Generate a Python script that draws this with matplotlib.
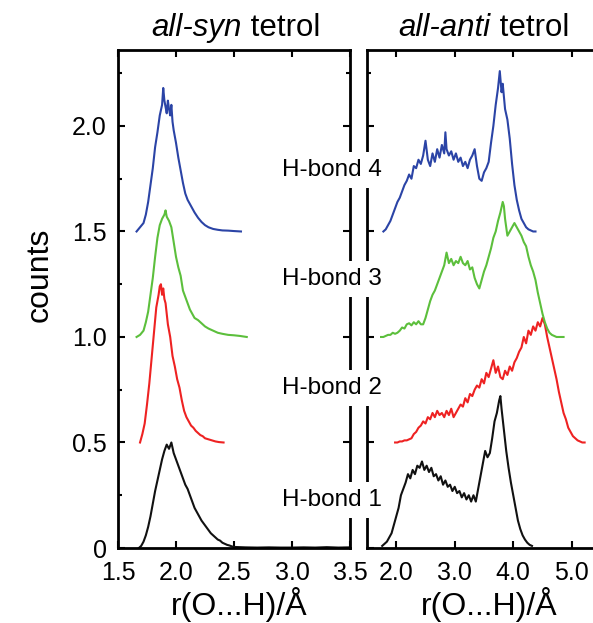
import matplotlib
matplotlib.use("Agg")
import matplotlib.pyplot as plt
from matplotlib.ticker import MultipleLocator, FuncFormatter

plt.rcParams['font.family'] = ['Liberation Sans', 'DejaVu Sans']

# colours of H-bond 1..4
colors = ['#111111', '#ee2222', '#5cbf3c', '#2b44a6']
offsets = [0.0, 0.5, 1.0, 1.5]
labels = ['H-bond 1', 'H-bond 2', 'H-bond 3', 'H-bond 4']

# ---- all-syn tetrol (left panel), raw counts before offset ----
syn_x1 = [1.68, 1.70, 1.72, 1.74, 1.76, 1.78, 1.80, 1.82, 1.84, 1.86, 1.88, 1.90, 1.92, 1.94, 1.96,
          1.98, 2.00, 2.02, 2.04, 2.06, 2.08, 2.10, 2.12, 2.14, 2.16, 2.18, 2.20, 2.22, 2.24, 2.26,
          2.28, 2.30, 2.32, 2.34, 2.36, 2.38, 2.40, 2.42, 2.44, 2.46, 2.48, 2.50, 2.55, 2.60, 2.70,
          2.80, 2.90, 3.00, 3.10, 3.20, 3.30, 3.40, 3.50]
syn_y1 = [0.0, 0.01, 0.03, 0.06, 0.10, 0.15, 0.21, 0.27, 0.32, 0.37, 0.42, 0.46, 0.49, 0.47, 0.50,
          0.45, 0.42, 0.39, 0.36, 0.33, 0.30, 0.28, 0.25, 0.22, 0.19, 0.17, 0.15, 0.13, 0.115, 0.10,
          0.085, 0.07, 0.06, 0.05, 0.04, 0.035, 0.025, 0.02, 0.015, 0.012, 0.008, 0.005, 0.004, 0.003, 0.002,
          0.003, 0.002, 0.002, 0.003, 0.002, 0.004, 0.002, 0.003]

syn_x2 = [1.69, 1.71, 1.73, 1.75, 1.77, 1.79, 1.81, 1.83, 1.85, 1.86, 1.87, 1.88, 1.89, 1.90, 1.91,
          1.93, 1.95, 1.97, 1.99, 2.01, 2.03, 2.05, 2.07, 2.09, 2.11, 2.13, 2.15, 2.17, 2.19, 2.21,
          2.23, 2.25, 2.28, 2.31, 2.34, 2.37, 2.41]
syn_y2 = [0.0, 0.04, 0.09, 0.18, 0.28, 0.40, 0.52, 0.64, 0.70, 0.74, 0.75, 0.70, 0.73, 0.68, 0.66,
          0.56, 0.50, 0.41, 0.36, 0.30, 0.26, 0.20, 0.15, 0.12, 0.10, 0.08, 0.07, 0.055, 0.045, 0.035,
          0.03, 0.02, 0.015, 0.01, 0.005, 0.002, 0.0]

syn_x3 = [1.66, 1.69, 1.72, 1.74, 1.76, 1.78, 1.80, 1.82, 1.84, 1.86, 1.88, 1.90, 1.91, 1.92, 1.94,
          1.96, 1.98, 2.00, 2.02, 2.04, 2.06, 2.08, 2.10, 2.12, 2.14, 2.16, 2.19, 2.22, 2.25, 2.28,
          2.32, 2.36, 2.40, 2.45, 2.50, 2.55, 2.61]
syn_y3 = [0.0, 0.01, 0.03, 0.07, 0.12, 0.20, 0.28, 0.38, 0.47, 0.53, 0.56, 0.58, 0.60, 0.57, 0.55,
          0.52, 0.45, 0.38, 0.33, 0.29, 0.22, 0.19, 0.16, 0.13, 0.11, 0.09, 0.08, 0.065, 0.05, 0.04,
          0.03, 0.02, 0.015, 0.01, 0.008, 0.005, 0.0]

syn_x4 = [1.66, 1.69, 1.72, 1.74, 1.76, 1.78, 1.80, 1.82, 1.84, 1.86, 1.88, 1.89, 1.90, 1.91, 1.92,
          1.93, 1.94, 1.95, 1.96, 1.97, 1.98, 2.00, 2.02, 2.04, 2.06, 2.08, 2.10, 2.12, 2.14, 2.16,
          2.19, 2.22, 2.25, 2.28, 2.32, 2.36, 2.40, 2.45, 2.50, 2.56]
syn_y4 = [0.0, 0.02, 0.04, 0.08, 0.14, 0.22, 0.30, 0.40, 0.47, 0.55, 0.60, 0.68, 0.62, 0.59, 0.56,
          0.62, 0.58, 0.55, 0.60, 0.52, 0.48, 0.42, 0.35, 0.29, 0.23, 0.18, 0.15, 0.13, 0.11, 0.09,
          0.065, 0.045, 0.03, 0.02, 0.012, 0.008, 0.005, 0.004, 0.002, 0.0]

# ---- all-anti tetrol (right panel) ----
anti_x1 = [1.76, 1.80, 1.84, 1.88, 1.92, 1.96, 2.00, 2.04, 2.08, 2.12, 2.16, 2.20, 2.24, 2.28, 2.32,
           2.36, 2.40, 2.44, 2.48, 2.52, 2.56, 2.60, 2.64, 2.68, 2.72, 2.76, 2.80, 2.84, 2.88, 2.92,
           2.96, 3.00, 3.04, 3.08, 3.12, 3.16, 3.20, 3.24, 3.28, 3.32, 3.36, 3.40, 3.44, 3.48, 3.52,
           3.56, 3.60, 3.64, 3.68, 3.72, 3.76, 3.78, 3.80, 3.84, 3.88, 3.92, 3.96, 4.00, 4.04, 4.08,
           4.12, 4.16, 4.20, 4.24, 4.28, 4.32]
anti_y1 = [0.01, 0.02, 0.03, 0.05, 0.07, 0.11, 0.15, 0.19, 0.25, 0.28, 0.31, 0.35, 0.33, 0.37, 0.35,
           0.39, 0.38, 0.41, 0.37, 0.39, 0.36, 0.38, 0.34, 0.35, 0.32, 0.34, 0.30, 0.32, 0.29, 0.30,
           0.27, 0.29, 0.26, 0.27, 0.24, 0.26, 0.23, 0.25, 0.22, 0.25, 0.22, 0.28, 0.34, 0.40, 0.46,
           0.43, 0.45, 0.52, 0.60, 0.64, 0.70, 0.72, 0.66, 0.56, 0.46, 0.38, 0.31, 0.25, 0.19, 0.13,
           0.09, 0.06, 0.04, 0.025, 0.015, 0.01]

anti_x2 = [1.98, 2.02, 2.06, 2.10, 2.14, 2.18, 2.22, 2.26, 2.30, 2.34, 2.38, 2.42, 2.46, 2.50, 2.54,
           2.58, 2.62, 2.66, 2.70, 2.74, 2.78, 2.82, 2.86, 2.90, 2.94, 2.98, 3.02, 3.06, 3.10, 3.14,
           3.18, 3.22, 3.26, 3.30, 3.34, 3.38, 3.42, 3.46, 3.50, 3.54, 3.58, 3.62, 3.66, 3.70, 3.74,
           3.78, 3.82, 3.86, 3.90, 3.94, 3.98, 4.02, 4.06, 4.10, 4.14, 4.18, 4.22, 4.26, 4.30, 4.34,
           4.38, 4.42, 4.46, 4.50, 4.54, 4.58, 4.62, 4.66, 4.70, 4.74, 4.78, 4.82, 4.86, 4.90, 4.94,
           4.98, 5.02, 5.06, 5.10, 5.14, 5.18, 5.22]
anti_y2 = [0.0, 0.0, 0.005, 0.005, 0.01, 0.01, 0.015, 0.02, 0.04, 0.05, 0.07, 0.08, 0.10, 0.09, 0.12,
           0.11, 0.14, 0.12, 0.15, 0.13, 0.14, 0.12, 0.15, 0.13, 0.16, 0.12, 0.14, 0.16, 0.18, 0.17,
           0.21, 0.19, 0.23, 0.22, 0.25, 0.27, 0.26, 0.30, 0.28, 0.33, 0.31, 0.35, 0.39, 0.33, 0.36,
           0.31, 0.30, 0.34, 0.32, 0.36, 0.34, 0.38, 0.40, 0.43, 0.45, 0.50, 0.47, 0.53, 0.51, 0.55,
           0.53, 0.57, 0.55, 0.59, 0.56, 0.50, 0.45, 0.40, 0.35, 0.30, 0.24, 0.19, 0.14, 0.11, 0.07,
           0.05, 0.03, 0.02, 0.01, 0.005, 0.0, 0.0]

anti_x3 = [1.74, 1.78, 1.82, 1.86, 1.90, 1.94, 1.98, 2.02, 2.06, 2.10, 2.14, 2.18, 2.22, 2.26, 2.30,
           2.34, 2.38, 2.42, 2.46, 2.50, 2.54, 2.58, 2.62, 2.66, 2.70, 2.74, 2.78, 2.82, 2.86, 2.90,
           2.94, 2.98, 3.02, 3.06, 3.10, 3.14, 3.18, 3.22, 3.26, 3.30, 3.34, 3.38, 3.42, 3.46, 3.50,
           3.54, 3.58, 3.62, 3.66, 3.70, 3.74, 3.78, 3.82, 3.84, 3.86, 3.90, 3.94, 3.98, 4.02, 4.06,
           4.10, 4.14, 4.18, 4.22, 4.26, 4.30, 4.34, 4.38, 4.42, 4.46, 4.50, 4.54, 4.58, 4.62, 4.66,
           4.70, 4.74, 4.78, 4.82, 4.86]
anti_y3 = [0.0, 0.0, 0.005, 0.01, 0.01, 0.02, 0.015, 0.02, 0.03, 0.045, 0.04, 0.06, 0.065, 0.055, 0.07,
           0.06, 0.075, 0.06, 0.06, 0.09, 0.13, 0.17, 0.20, 0.22, 0.25, 0.28, 0.31, 0.34, 0.40, 0.35,
           0.37, 0.34, 0.36, 0.35, 0.38, 0.35, 0.34, 0.36, 0.32, 0.33, 0.28, 0.25, 0.23, 0.27, 0.31,
           0.34, 0.38, 0.42, 0.47, 0.50, 0.55, 0.59, 0.64, 0.62, 0.56, 0.48, 0.50, 0.52, 0.54, 0.52,
           0.50, 0.48, 0.45, 0.43, 0.38, 0.34, 0.31, 0.27, 0.21, 0.16, 0.11, 0.07, 0.04, 0.02, 0.01,
           0.005, 0.0, 0.0, 0.0, 0.0]

anti_x4 = [1.78, 1.82, 1.86, 1.90, 1.94, 1.98, 2.02, 2.06, 2.10, 2.14, 2.18, 2.22, 2.26, 2.30, 2.34,
           2.38, 2.42, 2.46, 2.50, 2.54, 2.58, 2.62, 2.66, 2.70, 2.74, 2.78, 2.82, 2.84, 2.86, 2.90,
           2.94, 2.98, 3.02, 3.06, 3.10, 3.14, 3.18, 3.22, 3.26, 3.30, 3.34, 3.38, 3.42, 3.46, 3.50,
           3.54, 3.58, 3.62, 3.66, 3.70, 3.74, 3.77, 3.80, 3.82, 3.86, 3.90, 3.94, 3.98, 4.02, 4.06,
           4.10, 4.14, 4.18, 4.22, 4.26, 4.30, 4.34, 4.38]
anti_y4 = [0.0, 0.01, 0.03, 0.05, 0.08, 0.11, 0.14, 0.16, 0.19, 0.22, 0.24, 0.27, 0.25, 0.31, 0.30,
           0.34, 0.32, 0.36, 0.43, 0.34, 0.31, 0.37, 0.33, 0.39, 0.35, 0.41, 0.37, 0.47, 0.39, 0.36,
           0.38, 0.34, 0.37, 0.33, 0.35, 0.31, 0.33, 0.30, 0.34, 0.36, 0.39, 0.31, 0.25, 0.24, 0.28,
           0.30, 0.33, 0.42, 0.50, 0.60, 0.68, 0.76, 0.66, 0.70, 0.58, 0.53, 0.44, 0.32, 0.22, 0.15,
           0.10, 0.06, 0.04, 0.02, 0.01, 0.005, 0.0, 0.0]

syn_x = [syn_x1, syn_x2, syn_x3, syn_x4]
syn_y = [syn_y1, syn_y2, syn_y3, syn_y4]
anti_x = [anti_x1, anti_x2, anti_x3, anti_x4]
anti_y = [anti_y1, anti_y2, anti_y3, anti_y4]

W, H = 593, 623
fig = plt.figure(figsize=(W / 100, H / 100), dpi=100)
ax1 = fig.add_axes([118 / W, 75 / H, 232 / W, 498 / H])
ax2 = fig.add_axes([367 / W, 75 / H, 234 / W, 498 / H])

for i in range(4):
    ax1.plot(syn_x[i], [v + offsets[i] for v in syn_y[i]], color=colors[i], lw=1.5)
    ax2.plot(anti_x[i], [v + offsets[i] for v in anti_y[i]], color=colors[i], lw=1.5)

ylab = FuncFormatter(lambda v, p: "0" if v == 0 else "%.1f" % v)
for ax in (ax1, ax2):
    ax.set_ylim(0, 2.36)
    ax.yaxis.set_major_locator(MultipleLocator(0.5))
    ax.yaxis.set_minor_locator(MultipleLocator(0.25))
    ax.yaxis.set_major_formatter(ylab)
    ax.tick_params(which='both', direction='in', top=True, right=True,
                   labelsize=18, width=1.5)
    ax.tick_params(axis='y', pad=8)
    ax.tick_params(axis='x', pad=9)
    ax.tick_params(which='major', length=5)
    ax.tick_params(which='minor', length=3)
    for s in ax.spines.values():
        s.set_linewidth(2)

ax1.set_xlim(1.5, 3.5)
ax1.set_xticks([1.5, 2.0, 2.5, 3.0, 3.5])
ax1.set_xticklabels(["1.5", "2.0", "2.5", "3.0", "3.5"])
ax2.set_xlim(1.5, 5.5)
ax2.set_xticks([2.0, 3.0, 4.0, 5.0])
ax2.set_xticklabels(["2.0", "3.0", "4.0", "5.0"])
ax2.tick_params(labelleft=False)

# titles with italic prefix
r = fig.canvas.get_renderer()
def title(xc, ital, rest):
    t1 = fig.text(0, 1 - 36 / H, ital, fontsize=22.5, style='italic', va='baseline')
    t2 = fig.text(0, 1 - 36 / H, rest, fontsize=22.5, va='baseline')
    w1 = t1.get_window_extent(r).width
    w2 = t2.get_window_extent(r).width
    x0 = xc - (w1 + w2) / 2
    t1.set_x(x0 / W)
    t2.set_x((x0 + w1) / W)

title(236, "all-syn", " tetrol")
title(484, "all-anti", " tetrol")

fig.text(40 / W, 1 - 275 / H, "counts", fontsize=23, rotation=90, ha='center', va='center')
fig.text(239 / W, 1 - 615 / H, "r(O...H)/Å", fontsize=23, ha='center', va='baseline')
fig.text(489 / W, 1 - 615 / H, "r(O...H)/Å", fontsize=23, ha='center', va='baseline')

label_y = [500, 388, 279, 170]
for i in range(4):
    fig.text(332 / W, 1 - label_y[i] / H, labels[i], fontsize=17.5, ha='center', va='center',
             bbox=dict(facecolor='white', edgecolor='none', pad=5), zorder=5)

plt.savefig("out.png", dpi=100)
